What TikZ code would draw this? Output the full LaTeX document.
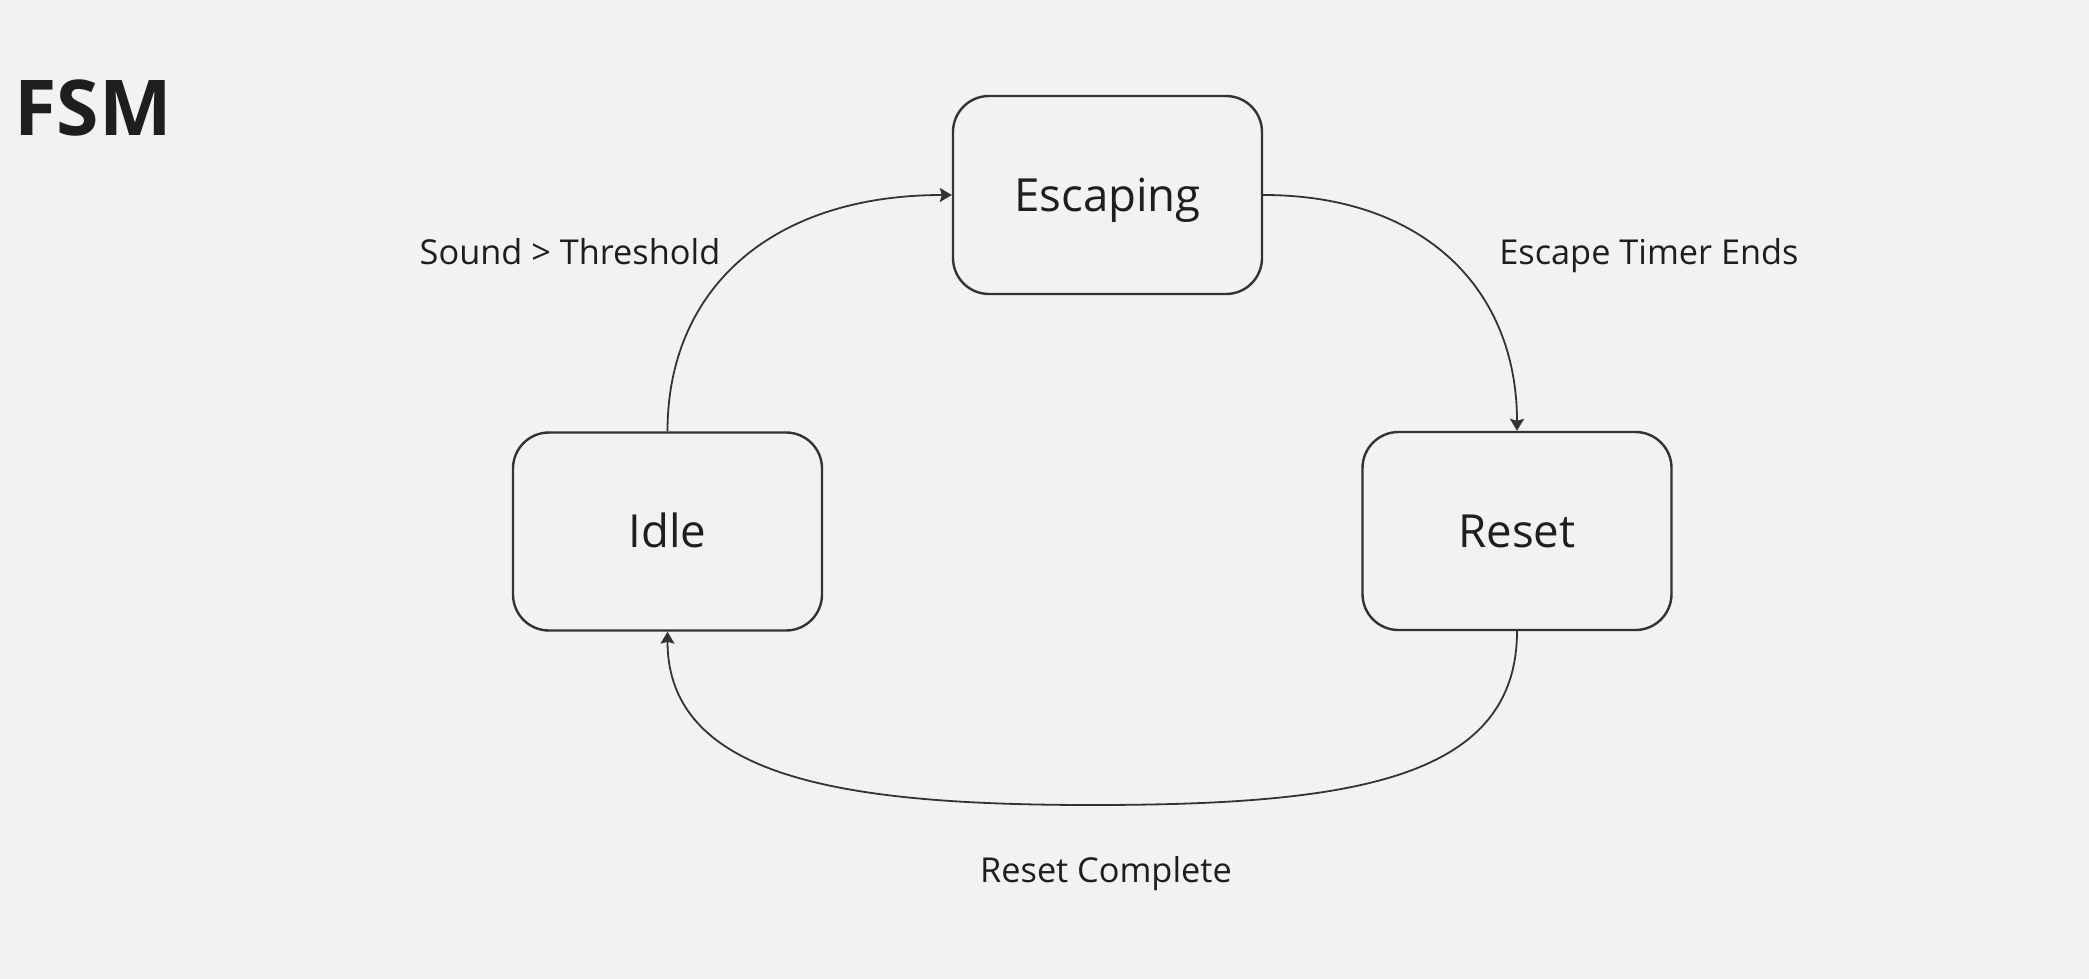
\documentclass[tikz,border=0pt]{standalone}
\usepackage{fontspec}
\setmainfont{Open Sans}
\usetikzlibrary{arrows.meta}
\definecolor{bg}{HTML}{F2F2F2}
\definecolor{ink}{HTML}{1E1E1E}
\definecolor{edgecol}{HTML}{333333}
\begin{document}
\begin{tikzpicture}[x=0.5pt,y=-0.5pt,
  state/.style={draw=edgecol, line width=1.2pt, rounded corners=18pt,
    minimum width=154.5pt, minimum height=99pt, inner sep=0pt,
    font=\fontsize{22.8}{27}\selectfont, text=ink, text height=16.3pt, text depth=0pt},
  trans/.style={draw=edgecol, line width=0.9pt, -{Stealth[length=6pt,width=7pt,inset=1pt]}},
  lbl/.style={font=\fontsize{17.15}{21}\selectfont, text=ink, text height=12.3pt,
    text depth=0pt, inner sep=0pt}]
\fill[bg] (0,0) rectangle (2089,979);
\useasboundingbox (0,0) rectangle (2089,979);
\node[anchor=base west, font=\bfseries\fontsize{38.5}{46}\selectfont, text=ink, inner sep=0pt] (title) at (14,135) {FSM};
\node[state] (esc) at (1107.5,195) {Escaping};
\node[state] (idle) at (667.5,531.5) {Idle};
\node[state] (reset) at (1517,531) {Reset};
\coordinate (bmid) at (1092,805);
\draw[trans] (idle.north) .. controls (667.5,290) and (770,195) .. (esc.west);
\draw[trans] (esc.east) .. controls (1425,195) and (1517,290) .. (reset.north);
\draw[trans] (reset.south) .. controls (1517,780) and (1350,805) .. (bmid) .. controls (850,805) and (667.5,780) .. (idle.south);
\node[lbl] (l1) at (570,252) {Sound > Threshold};
\node[lbl] (l2) at (1649,252) {Escape Timer Ends};
\node[lbl] (l3) at (1106,870) {Reset Complete};
\end{tikzpicture}
\end{document}
